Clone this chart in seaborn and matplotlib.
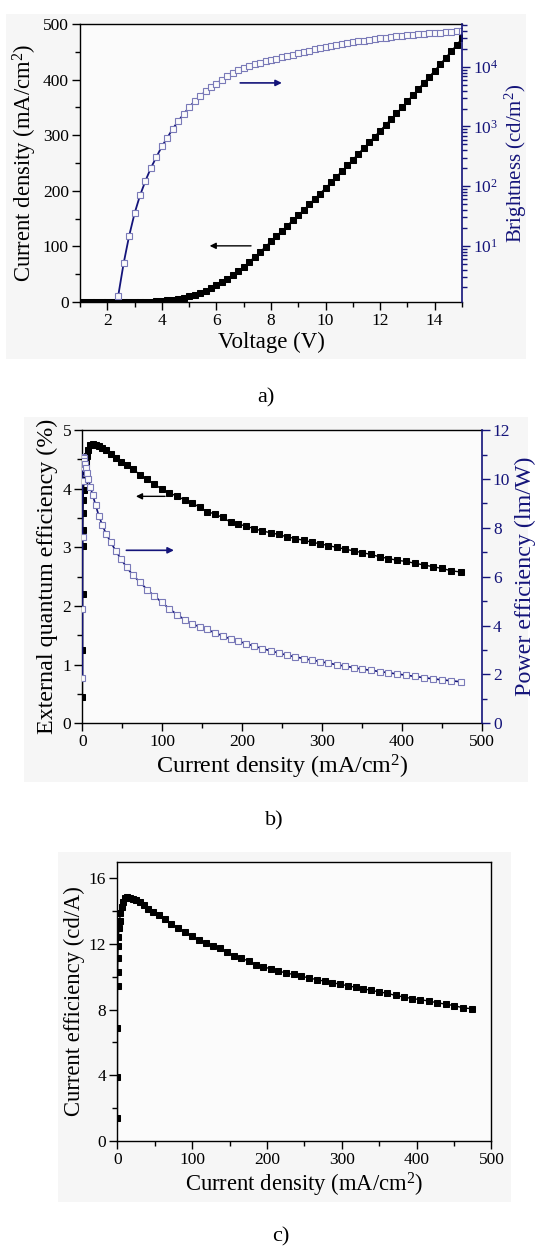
import pandas as pd
import seaborn as sns
import matplotlib.pyplot as plt
from matplotlib.ticker import MultipleLocator
from matplotlib.patches import Rectangle

# applied voltage (V)
voltage = [1.0, 1.2, 1.4, 1.6, 1.8, 2.0, 2.2, 2.4, 2.6, 2.8,
           3.0, 3.2, 3.4, 3.6, 3.8, 4.0, 4.2, 4.4, 4.6, 4.8,
           5.0, 5.2, 5.4, 5.6, 5.8, 6.0, 6.2, 6.4, 6.6, 6.8,
           7.0, 7.2, 7.4, 7.6, 7.8, 8.0, 8.2, 8.4, 8.6, 8.8,
           9.0, 9.2, 9.4, 9.6, 9.8, 10.0, 10.2, 10.4, 10.6, 10.8,
           11.0, 11.2, 11.4, 11.6, 11.8, 12.0, 12.2, 12.4, 12.6, 12.8,
           13.0, 13.2, 13.4, 13.6, 13.8, 14.0, 14.2, 14.4, 14.6, 14.8,
           15.0]

# current density (mA/cm2)
current_density = [0, 0, 0, 0, 0, 0.01, 0.02, 0.03, 0.05, 0.10,
                   0.18, 0.32, 0.55, 0.90, 1.35, 2.0, 2.9, 4.0, 5.5, 7.5,
                   10.0, 13.0, 16.5, 20.5, 25.0, 30.0, 35.5, 41.5, 48.0, 55.5,
                   63.5, 72.0, 81.0, 90.0, 99.5, 109.0, 118.5, 128.0, 137.5, 147.0,
                   156.0, 165.5, 175.5, 185.5, 195.0, 205.0, 215.0, 225.0, 235.5, 245.5,
                   256.0, 266.5, 277.0, 287.0, 297.5, 308.0, 318.5, 329.0, 339.5, 350.0,
                   361.0, 372.0, 383.0, 394.0, 405.0, 416.0, 427.5, 439.0, 450.5, 462.0,
                   474.0]

# from turn-on (2.4 V) upwards
brightness = [1.44, 5.1, 14.6, 35, 70, 123, 203, 307, 464, 648,
              915, 1230, 1620, 2100, 2650, 3230, 3870, 4560, 5260, 6060,
              6900, 7770, 8740, 9600, 10280, 10960, 11640, 12330, 13030, 13740,
              14450, 15210, 16000, 16830, 17700, 18620, 19590, 20610, 21680, 22490,
              23330, 24150, 25000, 25880, 26730, 27610, 28440, 29310, 30200, 30900,
              31620, 32360, 33040, 33730, 34360, 34990, 35650, 36310, 36980, 37580,
              38110, 38640, 39170, 39720]

eqe = [0.45, 1.25, 2.20, 3.02, 3.30, 3.58, 3.80, 3.98, 4.15, 4.30,
       4.44, 4.56, 4.66, 4.75, 4.77, 4.75, 4.73, 4.70, 4.66, 4.60,
       4.53, 4.46, 4.40, 4.33, 4.24, 4.16, 4.08, 3.99, 3.93, 3.87,
       3.81, 3.76, 3.68, 3.61, 3.57, 3.51, 3.43, 3.40, 3.36, 3.32,
       3.28, 3.25, 3.22, 3.18, 3.15, 3.12, 3.09, 3.06, 3.03, 3.00,
       2.97, 2.94, 2.91, 2.88, 2.84, 2.81, 2.78, 2.76, 2.73, 2.70,
       2.67, 2.64, 2.60, 2.58]

power_eff = [1.84, 4.66, 7.64, 9.90, 10.50, 10.85, 10.91, 10.85, 10.75, 10.62,
             10.45, 10.23, 9.98, 9.66, 9.33, 8.93, 8.50, 8.10, 7.73, 7.41,
             7.07, 6.73, 6.38, 6.05, 5.78, 5.47, 5.21, 4.95, 4.68, 4.45,
             4.24, 4.06, 3.95, 3.84, 3.71, 3.58, 3.45, 3.36, 3.26, 3.16,
             3.06, 2.97, 2.88, 2.79, 2.72, 2.65, 2.59, 2.53, 2.46, 2.40,
             2.34, 2.28, 2.22, 2.17, 2.12, 2.07, 2.02, 1.97, 1.92, 1.87,
             1.82, 1.78, 1.74, 1.70]

current_eff = [1.40, 3.90, 6.86, 9.42, 10.30, 11.17, 11.86, 12.42, 12.95, 13.42,
               13.85, 14.23, 14.54, 14.82, 14.88, 14.82, 14.76, 14.66, 14.54, 14.35,
               14.13, 13.92, 13.73, 13.51, 13.23, 12.98, 12.73, 12.45, 12.26, 12.07,
               11.89, 11.73, 11.48, 11.26, 11.14, 10.95, 10.70, 10.61, 10.48, 10.36,
               10.23, 10.14, 10.05, 9.92, 9.83, 9.73, 9.64, 9.55, 9.45, 9.36,
               9.27, 9.17, 9.08, 8.99, 8.86, 8.77, 8.67, 8.61, 8.52, 8.42,
               8.33, 8.24, 8.11, 8.05]

NAVY = "#14147a"
OPEN = "#7a7ab8"
PANEL_BG = "#f6f6f6"
AX_BG = "#fbfbfb"

sns.set_theme(style="ticks")
plt.rcParams["font.family"] = ["Liberation Serif", "DejaVu Serif"]
plt.rcParams["mathtext.fontset"] = "custom"
plt.rcParams["mathtext.rm"] = "Liberation Serif"
plt.rcParams["mathtext.it"] = "Liberation Serif:italic"
plt.rcParams["axes.edgecolor"] = "black"
plt.rcParams["text.color"] = "black"
plt.rcParams["axes.labelcolor"] = "black"
plt.rcParams["xtick.color"] = "black"
plt.rcParams["ytick.color"] = "black"

df_iv = pd.DataFrame({"V": voltage, "J": current_density})
df_on = pd.DataFrame({
    "V": voltage[7:],
    "J": current_density[7:],
    "B": brightness,
    "EQE": eqe,
    "PE": power_eff,
    "CE": current_eff,
})


def style_axis(ax, right=None):
    # outward ticks, black frame
    for side in ["left", "bottom", "top", "right"]:
        ax.spines[side].set_linewidth(1.0)
        ax.spines[side].set_color("black")
    ax.tick_params(which="major", direction="out", length=6, width=1,
                   labelsize=12.5, pad=2)
    ax.tick_params(which="minor", direction="out", length=3.5, width=1)
    ax.tick_params(top=False, right=False, which="both")
    ax.set_facecolor(AX_BG)
    if right is not None:
        ax.spines["right"].set_visible(False)
        for side in ["left", "bottom", "top"]:
            right.spines[side].set_visible(False)
        right.spines["right"].set_color(NAVY)
        right.spines["right"].set_linewidth(1.2)
        right.tick_params(which="major", direction="out", length=6, width=1,
                          labelsize=12.5, pad=2, colors=NAVY)
        right.tick_params(which="minor", direction="out", length=3.5,
                          width=1, colors=NAVY)


fig = plt.figure(figsize=(5.38, 12.48), dpi=100, facecolor="white")

# light grey backing of each panel
for box in [(0.011, 0.712, 0.967, 0.277),
            (0.045, 0.373, 0.937, 0.293),
            (0.107, 0.037, 0.843, 0.280)]:
    fig.patches.append(Rectangle(box[:2], box[2], box[3], transform=fig.transFigure,
                                 facecolor=PANEL_BG, edgecolor="none", zorder=-10))

# ---- a) J-V-L
ax_a = fig.add_axes([0.1487, 0.7580, 0.7100, 0.2228])
ax_a2 = ax_a.twinx()
ax_a2.set_yscale("log")
sns.lineplot(data=df_iv, x="V", y="J", ax=ax_a, color="black", marker="s",
             markersize=4.2, markeredgecolor="black", linewidth=1,
             estimator=None, sort=False)
sns.lineplot(data=df_on, x="V", y="B", ax=ax_a2, color=NAVY, marker="s",
             markersize=4.2, markerfacecolor=AX_BG, markeredgecolor=OPEN,
             markeredgewidth=0.8, linewidth=1.3, estimator=None, sort=False)
ax_a.set_xlim(1, 15)
ax_a.set_ylim(0, 500)
ax_a2.set_ylim(1.14, 52400)
ax_a.xaxis.set_major_locator(MultipleLocator(2))
ax_a.xaxis.set_minor_locator(MultipleLocator(1))
ax_a.yaxis.set_major_locator(MultipleLocator(100))
ax_a.yaxis.set_minor_locator(MultipleLocator(50))
style_axis(ax_a, ax_a2)
ax_a.set_xlabel("Voltage (V)", fontsize=16.5, labelpad=2)
ax_a.set_ylabel(r"Current density (mA/cm$^{\mathrm{2}}$)", fontsize=16.3, labelpad=3)
ax_a2.set_ylabel(r"Brightness (cd/m$^{\mathrm{2}}$)", fontsize=15, color=NAVY, labelpad=3)
ax_a.annotate("", xy=(8.5, 394), xytext=(6.77, 394),
              arrowprops=dict(arrowstyle="-|>", color=NAVY, lw=1.2, mutation_scale=9))
ax_a.annotate("", xy=(5.65, 101), xytext=(7.37, 101),
              arrowprops=dict(arrowstyle="-|>", color="black", lw=1.0, mutation_scale=9))
fig.text(0.494, 0.681, "a)", ha="center", va="center", fontsize=16)

# ---- b) EQE and power efficiency
ax_b = fig.add_axes([0.1532, 0.4204, 0.7424, 0.2350])
ax_b2 = ax_b.twinx()
sns.lineplot(data=df_on, x="J", y="EQE", ax=ax_b, color="black", marker="s",
             markersize=4.4, markeredgecolor="black", linewidth=1,
             estimator=None, sort=False)
sns.lineplot(data=df_on, x="J", y="PE", ax=ax_b2, color=NAVY, marker="s",
             markersize=4.6, markerfacecolor=AX_BG, markeredgecolor=OPEN,
             markeredgewidth=0.8, linewidth=1.2, estimator=None, sort=False)
ax_b.set_xlim(0, 500)
ax_b.set_ylim(0, 5)
ax_b2.set_ylim(0, 12)
ax_b.xaxis.set_major_locator(MultipleLocator(100))
ax_b.xaxis.set_minor_locator(MultipleLocator(50))
ax_b.yaxis.set_major_locator(MultipleLocator(1))
ax_b.yaxis.set_minor_locator(MultipleLocator(0.5))
ax_b2.yaxis.set_major_locator(MultipleLocator(2))
ax_b2.yaxis.set_minor_locator(MultipleLocator(1))
style_axis(ax_b, ax_b2)
ax_b.set_xlabel(r"Current density (mA/cm$^{\mathrm{2}}$)", fontsize=17.3, labelpad=2)
ax_b.set_ylabel("External quantum efficiency (%)", fontsize=17.3, labelpad=3)
ax_b2.set_ylabel("Power efficiency (lm/W)", fontsize=17.3, color=NAVY, labelpad=3)
ax_b.annotate("", xy=(63.5, 3.87), xytext=(107, 3.87),
              arrowprops=dict(arrowstyle="-|>", color="black", lw=1.0, mutation_scale=9))
ax_b.annotate("", xy=(118, 2.95), xytext=(51.5, 2.95),
              arrowprops=dict(arrowstyle="-|>", color=NAVY, lw=1.2, mutation_scale=9))
fig.text(0.509, 0.342, "b)", ha="center", va="center", fontsize=16)

# ---- c) current efficiency
ax_c = fig.add_axes([0.2182, 0.0857, 0.6952, 0.2238])
sns.lineplot(data=df_on, x="J", y="CE", ax=ax_c, color="black", marker="s",
             markersize=4.4, markeredgecolor="black", linewidth=1,
             estimator=None, sort=False)
ax_c.set_xlim(0, 500)
ax_c.set_ylim(0, 17)
ax_c.xaxis.set_major_locator(MultipleLocator(100))
ax_c.xaxis.set_minor_locator(MultipleLocator(50))
ax_c.yaxis.set_major_locator(MultipleLocator(4))
ax_c.yaxis.set_minor_locator(MultipleLocator(2))
style_axis(ax_c)
ax_c.set_xlabel(r"Current density (mA/cm$^{\mathrm{2}}$)", fontsize=16.3, labelpad=2)
ax_c.set_ylabel("Current efficiency (cd/A)", fontsize=16.3, labelpad=3)
fig.text(0.522, 0.009, "c)", ha="center", va="center", fontsize=16)

fig.savefig("out.png", dpi=100, facecolor="white")
